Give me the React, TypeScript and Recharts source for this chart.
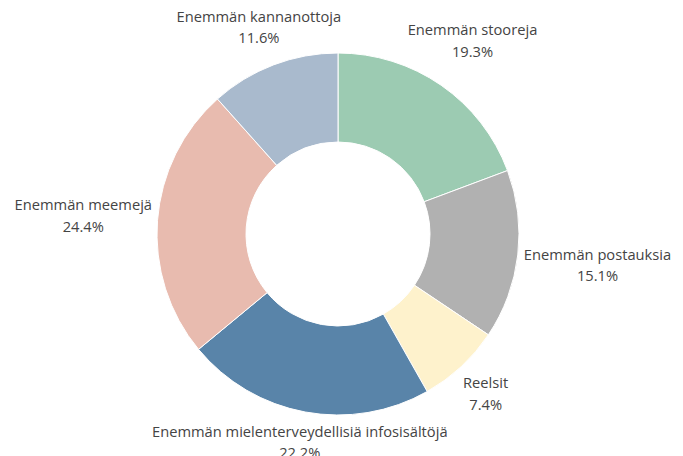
import { PieChart, Pie, Cell } from 'recharts';

const categories = [
  'Enemmän stooreja',
  'Enemmän postauksia',
  'Reelsit',
  'Enemmän mielenterveydellisiä infosisältöjä',
  'Enemmän meemejä',
  'Enemmän kannanottoja',
];
const shares = [19.3, 15.1, 7.4, 22.2, 24.4, 11.6];
const colors = ['#9ccbb2', '#b1b1b1', '#fef2cc', '#5984a9', '#e8bbaf', '#a9bacd'];

const data = categories.map((name, i) => ({ name, value: shares[i] }));

const FONT_SIZE = 14.7;
const LINE_GAP = 21.5;
const FONT = `${FONT_SIZE}px "Open Sans"`;

let measureCtx: CanvasRenderingContext2D | null = null;
function textWidth(s: string) {
  if (!measureCtx) {
    measureCtx = document.createElement('canvas').getContext('2d');
  }
  if (!measureCtx) return s.length * 7.8;
  measureCtx.font = FONT;
  return measureCtx.measureText(s).width;
}

// push the two-line label box out along the mid angle until it clears the ring
function renderLabel(props: any) {
  const { cx, cy, midAngle, outerRadius, index } = props;
  const name = categories[index];
  const pct = `${shares[index].toFixed(1)}%`;
  const hw = Math.max(textWidth(name), textWidth(pct)) / 2;
  const hh = LINE_GAP;
  const rad = (midAngle * Math.PI) / 180;
  const ux = Math.cos(rad);
  const uy = -Math.sin(rad);
  const target = outerRadius + 5;
  let lo = 0;
  let hi = outerRadius + 400;
  for (let k = 0; k < 40; k++) {
    const d = (lo + hi) / 2;
    const ex = Math.max(0, Math.abs(d * ux) - hw);
    const ey = Math.max(0, Math.abs(d * uy) - hh);
    if (Math.hypot(ex, ey) < target) lo = d;
    else hi = d;
  }
  const x = cx + hi * ux;
  const y = cy + hi * uy;
  return (
    <text
      x={x}
      y={y}
      textAnchor="middle"
      fill="#444"
      style={{ fontFamily: '"Open Sans"', fontSize: FONT_SIZE }}
    >
      <tspan x={x} y={y - LINE_GAP / 2} dominantBaseline="central">
        {name}
      </tspan>
      <tspan x={x} y={y + LINE_GAP / 2} dominantBaseline="central">
        {pct}
      </tspan>
    </text>
  );
}

export default function App() {
  return (
    <div style={{ position: 'absolute', left: 0, top: 0, background: '#fff' }}>
      <PieChart width={683} height={456} margin={{ top: 0, right: 0, bottom: 0, left: 0 }}>
        <Pie
          data={data}
          dataKey="value"
          nameKey="name"
          cx={338}
          cy={234}
          innerRadius={92}
          outerRadius={181}
          startAngle={90}
          endAngle={-270}
          stroke="#fff"
          strokeWidth={1}
          label={renderLabel}
          labelLine={false}
          isAnimationActive={false}
        >
          {data.map((d, i) => (
            <Cell key={d.name} fill={colors[i]} />
          ))}
        </Pie>
      </PieChart>
    </div>
  );
}
